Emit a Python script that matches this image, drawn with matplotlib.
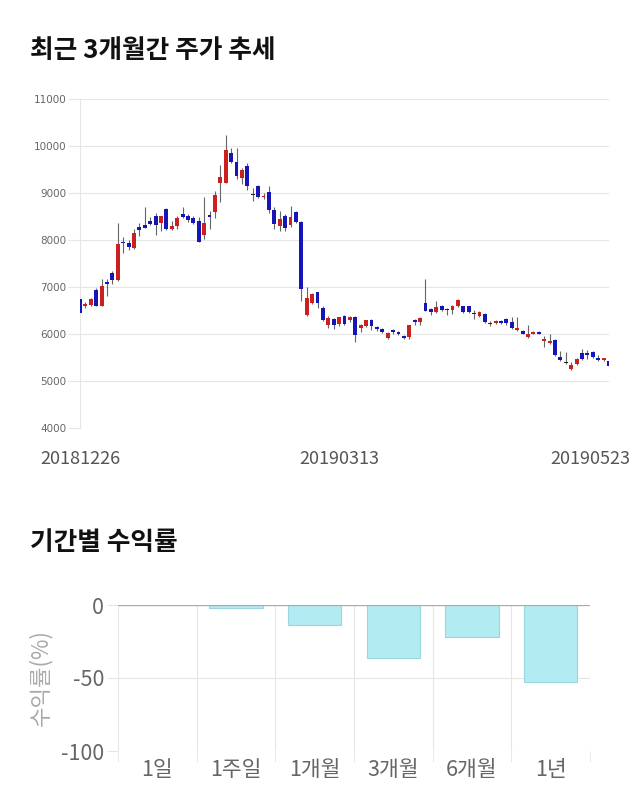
import matplotlib
matplotlib.use("Agg")
import matplotlib.pyplot as plt
import matplotlib.transforms as mtransforms
import numpy as np

plt.rcParams['font.family'] = ['Noto Sans CJK KR', 'DejaVu Sans']

# ---- candlestick data ----
opens = [6740, 6600, 6620, 6940, 6600, 7100, 7290, 7140, 7950, 7930,
         7840, 8270, 8310, 8410, 8510, 8360, 8660, 8240, 8290, 8550,
         8500, 8460, 8410, 8100, 8520, 8590, 9210, 9210, 9860, 9660,
         9310, 9570, 8960, 9140, 8910, 9030, 8640, 8290, 8500, 8310,
         8590, 8390, 6410, 6660, 6890, 6550, 6190, 6310, 6210, 6390,
         6300, 6370, 6120, 6160, 6300, 6140, 6110, 5910, 6090, 6050,
         5960, 5930, 6290, 6250, 6660, 6540, 6460, 6590, 6510, 6510,
         6600, 6590, 6590, 6430, 6390, 6420, 6240, 6240, 6280, 6310,
         6250, 6090, 6060, 5940, 6010, 6040, 5850, 5800, 5870, 5520,
         5380, 5250, 5360, 5590, 5590, 5620, 5480, 5450, 5420]
closes = [6450, 6640, 6740, 6600, 7030, 7065, 7140, 7910, 7930, 7860,
          8140, 8220, 8265, 8350, 8310, 8500, 8240, 8290, 8460, 8500,
          8430, 8360, 7960, 8370, 8500, 8960, 9340, 9910, 9660, 9360,
          9490, 9140, 8960, 8910, 8940, 8630, 8340, 8440, 8260, 8480,
          8390, 6960, 6760, 6850, 6660, 6300, 6340, 6190, 6360, 6210,
          6370, 5980, 6190, 6290, 6160, 6100, 6040, 6030, 6040, 6000,
          5910, 6190, 6250, 6340, 6500, 6460, 6570, 6510, 6510, 6600,
          6730, 6460, 6460, 6430, 6460, 6260, 6210, 6280, 6240, 6230,
          6130, 6130, 6010, 6010, 6040, 6010, 5890, 5850, 5550, 5450,
          5380, 5350, 5470, 5470, 5550, 5520, 5450, 5480, 5310]
highs = [6760, 6690, 6760, 6980, 7160, 7160, 7330, 8360, 8070, 8010,
         8230, 8360, 8710, 8500, 8580, 8520, 8680, 8400, 8510, 8700,
         8560, 8520, 8500, 8910, 8620, 9050, 9600, 10240, 9950, 9950,
         9540, 9640, 9100, 9160, 9000, 9140, 8700, 8620, 8560, 8720,
         8610, 8410, 6990, 6880, 6900, 6600, 6380, 6330, 6370, 6400,
         6380, 6380, 6210, 6300, 6320, 6160, 6130, 6040, 6100, 6070,
         5980, 6200, 6320, 6360, 7160, 6560, 6700, 6620, 6560, 6620,
         6750, 6600, 6600, 6520, 6480, 6450, 6280, 6300, 6300, 6340,
         6370, 6370, 6080, 6190, 6060, 6060, 5960, 6010, 5890, 5640,
         5620, 5400, 5490, 5690, 5660, 5640, 5560, 5490, 5460]
lows = [6420, 6560, 6600, 6590, 6590, 6800, 7060, 7120, 7730, 7790,
        7810, 8080, 8250, 8310, 8100, 8200, 8210, 8220, 8240, 8460,
        8390, 8330, 7950, 8030, 8230, 8470, 8810, 9210, 9640, 9290,
        9200, 9060, 8820, 8900, 8880, 8570, 8240, 8200, 8200, 8280,
        8360, 6700, 6380, 6640, 6560, 6280, 6120, 6100, 6180, 6200,
        6250, 5840, 6050, 6140, 6090, 6060, 6020, 5890, 6000, 5980,
        5890, 5900, 6200, 6200, 6480, 6400, 6440, 6480, 6400, 6420,
        6580, 6440, 6450, 6320, 6370, 6240, 6180, 6220, 6220, 6200,
        6100, 6070, 5990, 5920, 5990, 5990, 5720, 5780, 5530, 5430,
        5360, 5230, 5340, 5440, 5470, 5500, 5430, 5430, 5300]
date_ticks = [0, 48, 98]
date_labels = ["20181226", "20190313", "20190523"]
price_ticks = [4000, 5000, 6000, 7000, 8000, 9000, 10000, 11000]

# ---- return data ----
periods = ["1일", "1주일", "1개월", "3개월", "6개월", "1년"]
returns = [0.0, -1.8, -14.0, -36.2, -22.0, -52.5]

W, H = 640, 810
fig = plt.figure(figsize=(W / 100, H / 100), dpi=100)

def ax_rect(l, t, r, b):
    return [l / W, 1 - b / H, (r - l) / W, (b - t) / H]

TXT = '#666666'
GRID = '#e6e6e6'

fig.text(30 / W, 1 - 50 / H, "최근 3개월간 주가 추세", fontsize=18.5,
         fontweight='bold', color='#111111', va='center', ha='left')
fig.text(30 / W, 1 - 543 / H, "기간별 수익률", fontsize=18.5,
         fontweight='bold', color='#111111', va='center', ha='left')

# ---- candlestick chart ----
ax = fig.add_axes(ax_rect(80, 99, 609, 428))
n = len(opens)
x = np.arange(n)
o = np.array(opens); c = np.array(closes)
hi = np.array(highs); lo = np.array(lows)
cols = np.where(c > o, '#cc1f1f', np.where(c < o, '#1515b8', '#222222'))
ax.vlines(x, lo, hi, color='#666666', linewidth=0.8, zorder=2)
bottom = np.minimum(o, c)
height = np.maximum(np.abs(c - o), 25)
ax.bar(x, height, bottom=bottom, width=0.72, color=cols, linewidth=0, zorder=3)
ax.set_xlim(0, n - 1)
ax.set_ylim(4000, 11000)
ax.set_yticks(price_ticks)
ax.set_yticklabels([str(v) for v in price_ticks], fontsize=7.5, color=TXT,
                   family=['DejaVu Sans'])
ax.tick_params(axis='y', length=9, color=GRID, pad=1)
ax.grid(axis='y', color=GRID, linewidth=0.8, zorder=0)
ax.set_xticks(date_ticks)
ax.set_xticklabels(date_labels, fontsize=13, color='#555555')
ax.tick_params(axis='x', length=0, pad=16)
for s in ['top', 'right', 'bottom']:
    ax.spines[s].set_visible(False)
ax.spines['left'].set_color(GRID)
labs = ax.get_xticklabels()
labs[-1].set_horizontalalignment('right')
labs[-1].set_transform(labs[-1].get_transform() +
                       mtransforms.ScaledTranslation(21 / 100, 0, fig.dpi_scale_trans))
ax.set_axisbelow(True)

# ---- return bar chart ----
ax2 = fig.add_axes(ax_rect(118, 605, 590, 751))
xb = np.arange(len(periods))
ax2.bar(xb, returns, width=0.68, color='#b2ebf2', edgecolor='#9bd6df',
        linewidth=0.8, zorder=3)
ax2.set_xlim(-0.5, len(periods) - 0.5)
ax2.set_ylim(-100, 0)
ax2.set_yticks([0, -50, -100])
ax2.set_yticklabels(["0", "-50", "-100"], fontsize=15.5, color=TXT)
ax2.set_xticks(xb)
ax2.set_xticklabels(periods, fontsize=15.5, color=TXT)
ax2.set_xticks(np.arange(-0.5, len(periods), 1.0), minor=True)
ax2.tick_params(axis='x', which='major', length=0, pad=6)
ax2.tick_params(axis='x', which='minor', length=8, color=GRID)
ax2.tick_params(axis='y', length=8, color=GRID, pad=2)
ax2.grid(axis='x', which='minor', color=GRID, linewidth=0.8, zorder=0)
ax2.grid(axis='y', color=GRID, linewidth=0.8, zorder=0)
ax2.axhline(0, color='#aaaaaa', linewidth=0.9, zorder=4)
for s in ax2.spines.values():
    s.set_visible(False)
ax2.set_ylabel("수익률(%)", fontsize=16, color='#aaaaaa', labelpad=6)
ax2.set_axisbelow(True)

fig.savefig("out.png", dpi=100)
